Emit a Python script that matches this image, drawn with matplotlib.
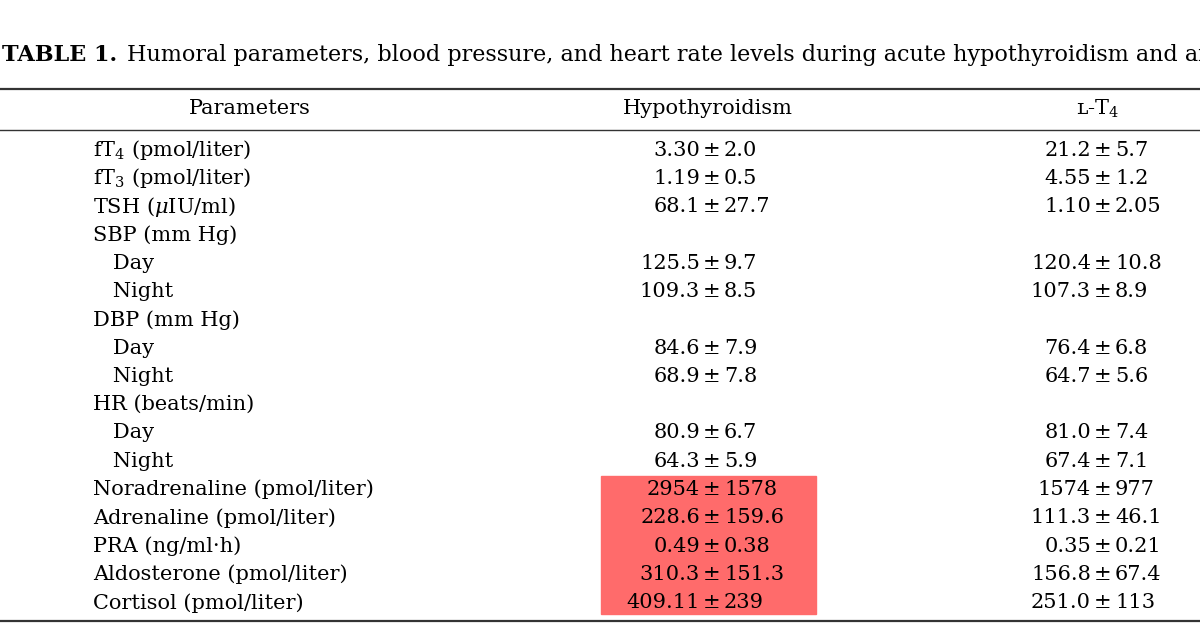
import matplotlib.pyplot as plt
from matplotlib.patches import Rectangle

plt.rcParams['font.family'] = 'DejaVu Serif'
plt.rcParams['mathtext.fontset'] = 'dejavuserif'

params = ['fT$_4$ (pmol/liter)', 'fT$_3$ (pmol/liter)', 'TSH ($\\mu$IU/ml)', 'SBP (mm Hg)',
          '   Day', '   Night', 'DBP (mm Hg)', '   Day', '   Night', 'HR (beats/min)',
          '   Day', '   Night', 'Noradrenaline (pmol/liter)', 'Adrenaline (pmol/liter)',
          'PRA (ng/ml·h)', 'Aldosterone (pmol/liter)', 'Cortisol (pmol/liter)']
hypo = [('3.30', '2.0'), ('1.19', '0.5'), ('68.1', '27.7'), None,
        ('125.5', '9.7'), ('109.3', '8.5'), None, ('84.6', '7.9'), ('68.9', '7.8'), None,
        ('80.9', '6.7'), ('64.3', '5.9'), ('2954', '1578'), ('228.6', '159.6'),
        ('0.49', '0.38'), ('310.3', '151.3'), ('409.11', '239')]
lt4 = [('21.2', '5.7'), ('4.55', '1.2'), ('1.10', '2.05'), None,
       ('120.4', '10.8'), ('107.3', '8.9'), None, ('76.4', '6.8'), ('64.7', '5.6'), None,
       ('81.0', '7.4'), ('67.4', '7.1'), ('1574', '977'), ('111.3', '46.1'),
       ('0.35', '0.21'), ('156.8', '67.4'), ('251.0', '113')]
highlight_rows = [12, 13, 14, 15, 16]

fig = plt.figure(figsize=(12, 6.34), dpi=100)
ax = fig.add_axes([0, 0, 1, 1])
ax.set_xlim(0, 1200)
ax.set_ylim(634, 0)
ax.axis('off')

fs = 15
# title
t = ax.text(2, 55, 'TABLE 1.', fontsize=16, fontweight='bold', va='center')
fig.canvas.draw()
bb = t.get_window_extent().transformed(ax.transData.inverted())
ax.text(bb.x1 + 10, 55, 'Humoral parameters, blood pressure, and heart rate levels during acute hypothyroidism and after L-T4',
        fontsize=16, va='center')

ax.plot([0, 1200], [89, 89], color='#333333', lw=1.6)
ax.plot([0, 1200], [130, 130], color='#333333', lw=1.0)
ax.plot([0, 1200], [621, 621], color='#333333', lw=1.6)

ax.text(250, 109, 'Parameters', fontsize=fs, ha='center', va='center')
ax.text(708, 109, 'Hypothyroidism', fontsize=fs, ha='center', va='center')
ax.text(1098, 109, 'ʟ-T$_4$', fontsize=fs, ha='center', va='center')

y0, dy = 150, 28.3
ax.add_patch(Rectangle((601, y0 + highlight_rows[0] * dy - 14), 215, 138,
                       color='#FF6B6B', zorder=0))

def val(x, y, pair):
    if pair is None:
        return
    ax.text(x - 12, y, pair[0], fontsize=fs, ha='right', va='center')
    ax.text(x, y, '±', fontsize=fs, ha='center', va='center')
    ax.text(x + 12, y, pair[1], fontsize=fs, ha='left', va='center')

for i, p in enumerate(params):
    y = y0 + i * dy
    ax.text(93, y, p, fontsize=fs, va='center')
    val(712, y, hypo[i])
    val(1103, y, lt4[i])

fig.savefig('out.png', dpi=100)
